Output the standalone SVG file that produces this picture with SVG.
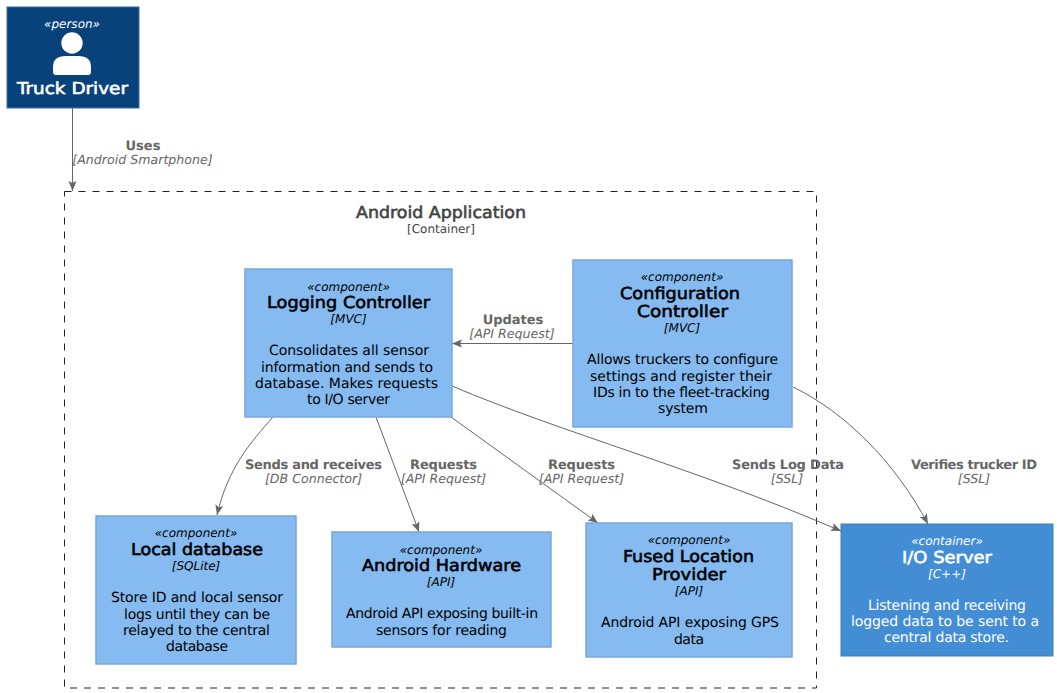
<svg xmlns="http://www.w3.org/2000/svg" width="1057" height="693" viewBox="0 0 1057 693">
<style>
text{font-family:"DejaVu Sans",sans-serif;text-anchor:middle;text-rendering:geometricPrecision}
.st{font-size:12px;font-style:italic}
.nm{font-size:16.500px;stroke-width:.6;paint-order:stroke}
.d{font-size:14px}
.w{fill:#fff}
.k{fill:#000}
.nm.w{stroke:#fff}
.nm.k{stroke:#000}
.cp{fill:#85BBF0;stroke:#78A8D8;stroke-width:1.5}
.ln{fill:none;stroke:#666;stroke-width:1}
.lb{font-size:13px;font-weight:bold;fill:#666}
.ls{font-size:12.600px;font-style:italic;fill:#666}
</style>
<defs><marker id="a" markerUnits="userSpaceOnUse" markerWidth="11" markerHeight="10" refX="10" refY="4" orient="auto"><path d="M0 0L10 4L0 8L2 4Z" fill="#666"/></marker></defs>
<rect width="1057" height="693" fill="#fff"/>
<g id="boundary"><rect x="64.500" y="191.500" width="752" height="496.500" fill="none" stroke="#222" stroke-width="1" stroke-dasharray="7 7"/>
<text x="441" y="218" font-size="16.500" fill="#444" stroke="#444" stroke-width=".6" textLength="170" lengthAdjust="spacingAndGlyphs">Android Application</text>
<text x="441" y="233" font-size="12" fill="#444">[Container]</text></g>
<g id="connectors">
<path class="ln" marker-end="url(#a)" d="M72.500 108V191"/>
<path class="ln" marker-end="url(#a)" d="M573 343.500H452"/>
<path class="ln" marker-end="url(#a)" d="M273 417C250 443 228 468 217 515"/>
<path class="ln" marker-end="url(#a)" d="M376 417L419 532"/>
<path class="ln" marker-end="url(#a)" d="M451 417L598 523"/>
<path class="ln" marker-end="url(#a)" d="M452 386C560 432 700 470 841 531"/>
<path class="ln" marker-end="url(#a)" d="M793 387C845 412 895 462 928 524"/>
<text class="lb" x="143" y="150">Uses</text><text class="ls" x="142.500" y="164">[Android Smartphone]</text>
<text class="lb" x="513" y="324">Updates</text><text class="ls" x="512" y="338">[API Request]</text>
<text class="lb" x="313.500" y="469" textLength="137">Sends and receives</text><text class="ls" x="313.500" y="483">[DB Connector]</text>
<text class="lb" x="443.500" y="469" textLength="67">Requests</text><text class="ls" x="443.500" y="483">[API Request]</text>
<text class="lb" x="581.500" y="469" textLength="67">Requests</text><text class="ls" x="581.500" y="483">[API Request]</text>
<text class="lb" x="788" y="469" textLength="112">Sends Log Data</text><text class="ls" x="787" y="483">[SSL]</text>
<text class="lb" x="974" y="469" textLength="126">Verifies trucker ID</text><text class="ls" x="974" y="483">[SSL]</text>
</g>
<g id="truck-driver"><rect x="7" y="7" width="132" height="101" fill="#08427B" stroke="#3C6C9C" stroke-width="1"/>
<text class="st w" x="72" y="28" textLength="56">«person»</text>
<circle cx="72" cy="43" r="10.700" fill="#fff"/><path d="M53 72V67Q53 56 66 56H78Q91 56 91 67V72Q91 75 88 75H56Q53 75 53 72Z" fill="#fff"/>
<text class="nm w" x="72.500" y="94" textLength="111" lengthAdjust="spacingAndGlyphs">Truck Driver</text></g>
<g id="logging-controller"><rect class="cp" x="245" y="269" width="207" height="148"/>
<text class="st k" x="348.500" y="291">«component»</text><text class="nm k" x="348.500" y="308" textLength="163" lengthAdjust="spacingAndGlyphs">Logging Controller</text><text class="st k" x="348.500" y="323">[MVC]</text>
<text class="d k" x="349" y="355" textLength="160">Consolidates all sensor</text><text class="d k" x="347" y="372" textLength="172">information and sends to</text><text class="d k" x="346.500" y="388" textLength="183">database. Makes requests</text><text class="d k" x="348.500" y="404" textLength="83">to I/O server</text></g>
<g id="configuration-controller"><rect class="cp" x="573" y="260" width="219" height="167"/>
<text class="st k" x="682" y="281">«component»</text><text class="nm k" x="680" y="299" textLength="120" lengthAdjust="spacingAndGlyphs">Configuration</text><text class="nm k" x="682.500" y="317" textLength="91" lengthAdjust="spacingAndGlyphs">Controller</text><text class="st k" x="682" y="332">[MVC]</text>
<text class="d k" x="682.500" y="364" textLength="191">Allows truckers to configure</text><text class="d k" x="681" y="381" textLength="182">settings and register their</text><text class="d k" x="681.500" y="397" textLength="177">IDs in to the fleet-tracking</text><text class="d k" x="683" y="413" textLength="50">system</text></g>
<g id="local-database"><rect class="cp" x="96" y="516" width="200" height="148"/>
<text class="st k" x="196" y="537">«component»</text><text class="nm k" x="197" y="555" textLength="132" lengthAdjust="spacingAndGlyphs">Local database</text><text class="st k" x="196" y="570">[SQLite]</text>
<text class="d k" x="197" y="602" textLength="172">Store ID and local sensor</text><text class="d k" x="197" y="619" textLength="146">logs until they can be</text><text class="d k" x="196.500" y="635" textLength="147">relayed to the central</text><text class="d k" x="197" y="651" textLength="62">database</text></g>
<g id="android-hardware"><rect class="cp" x="332" y="532" width="219" height="115"/>
<text class="st k" x="441" y="554">«component»</text><text class="nm k" x="441.500" y="571" textLength="159" lengthAdjust="spacingAndGlyphs">Android Hardware</text><text class="st k" x="441" y="586">[API]</text>
<text class="d k" x="442" y="618" textLength="192">Android API exposing built-in</text><text class="d k" x="441.500" y="635" textLength="131">sensors for reading</text></g>
<g id="fused-location-provider"><rect class="cp" x="586" y="523" width="206" height="134"/>
<text class="st k" x="689" y="544">«component»</text><text class="nm k" x="688.500" y="562" textLength="131" lengthAdjust="spacingAndGlyphs">Fused Location</text><text class="nm k" x="689" y="580" textLength="74" lengthAdjust="spacingAndGlyphs">Provider</text><text class="st k" x="689" y="595">[API]</text>
<text class="d k" x="690" y="627" textLength="178">Android API exposing GPS</text><text class="d k" x="689" y="644" textLength="30">data</text></g>
<g id="io-server"><rect x="841" y="524" width="212" height="132" fill="#438DD5" stroke="#3C7FC0" stroke-width="1"/>
<text class="st w" x="947" y="545">«container»</text><text class="nm w" x="947" y="563" textLength="90" lengthAdjust="spacingAndGlyphs">I/O Server</text><text class="st w" x="947" y="578">[C++]</text>
<text class="d w" x="947" y="610" textLength="158">Listening and receiving</text><text class="d w" x="945" y="626" textLength="188">logged data to be sent to a</text><text class="d w" x="946.500" y="642" textLength="125">central data store.</text></g>
</svg>
